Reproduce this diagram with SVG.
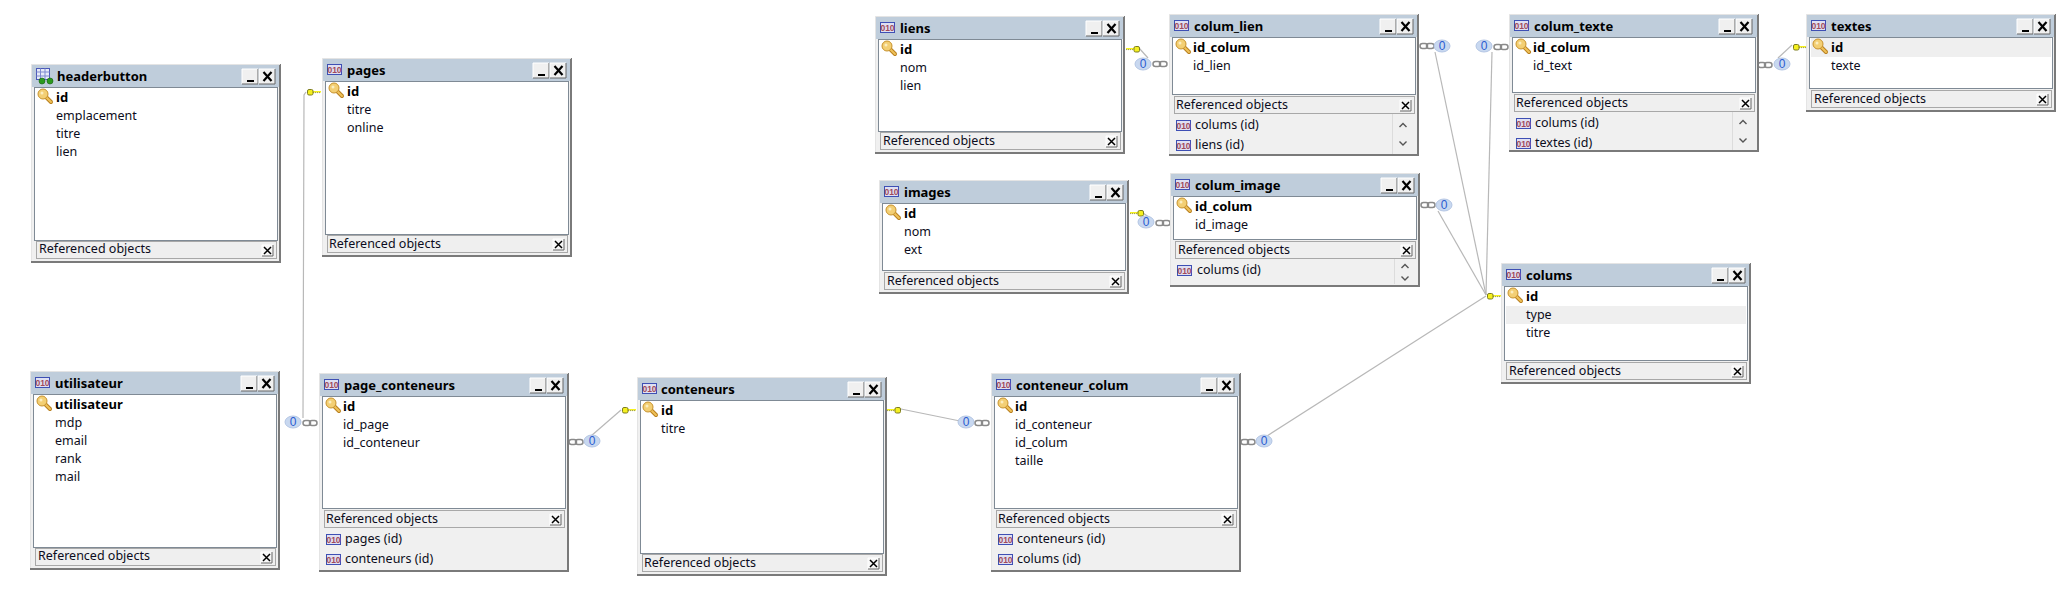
<svg xmlns="http://www.w3.org/2000/svg" xmlns:xlink="http://www.w3.org/1999/xlink" width="2071" height="591" viewBox="0 0 2071 591">
<style>
text{font-family:"Noto Sans","DejaVu Sans",sans-serif;font-size:12.5px;fill:#0c0c20}
.t{font-weight:700;font-size:13px;fill:#000}
.k{font-weight:700;font-size:13px;fill:#000}
.win{fill:#f0f0f0}
.edge{fill:none;stroke:#7a7a7a;stroke-width:2}
.lite{fill:none;stroke:#e4e4e4;stroke-width:1}
.bar{fill:#bfcddb}
.body{fill:#fff;stroke:#7f8a95;stroke-width:1}
.ref{fill:#efefef;stroke:#a8a8a8;stroke-width:1}
.hl{fill:#efefef}
.sep{stroke:#dcdcdc;stroke-width:1}
.chev{fill:none;stroke:#555;stroke-width:1.4}
.c{fill:none;stroke:#b8b8b8;stroke-width:1.2}
.z{font-family:"Liberation Sans",sans-serif;font-size:12px;fill:#2a5bd0;text-anchor:middle}
.ic{font-family:"Liberation Sans",sans-serif;font-size:8.5px;font-weight:700;fill:#a04a5a;text-anchor:middle}
</style>
<defs>
<g id="btn"><rect width="16" height="15" fill="#f0f0f0"/><path d="M0 15V0H16" fill="none" stroke="#fff"/><path d="M16 0V15H0" fill="none" stroke="#666"/></g>
<g id="tb">
<use href="#btn"/><rect x="5" y="11" width="7" height="2" fill="#000"/>
<use href="#btn" x="17"/><path d="M21.500 3L29.500 12M29.500 3L21.500 12" stroke="#000" stroke-width="2.200" fill="none"/>
</g>
<g id="rc"><rect width="11" height="11" fill="#f6f6f6"/><path d="M0 11V0H11" fill="none" stroke="#fff"/><path d="M11 0V11H0" fill="none" stroke="#666"/><path d="M2 2L9 9M9 2L2 9" stroke="#000" stroke-width="1.500" fill="none"/></g>
<g id="i010"><rect x=".5" y=".5" width="14" height="10" fill="#dfe0f2" stroke="#3e4fb4"/><text class="ic" x="7.500" y="8.500">010</text></g>
<g id="igrid"><rect x=".5" y=".5" width="13" height="11" fill="#e6eaf8" stroke="#4a58b8"/><path d="M.5 4H13.500M.5 8H13.500M4.500 .5V11.500M9 .5V11.500" stroke="#7f8ad0" fill="none"/><circle cx="6" cy="13" r="3" fill="#2c9a1e" stroke="#145c10" stroke-width=".6"/><circle cx="14" cy="13" r="3" fill="#2c9a1e" stroke="#145c10" stroke-width=".6"/></g>
<g id="kb"><path d="M6.500 6.500L13 13" stroke="#b9801f" stroke-width="4" stroke-linecap="round"/><path d="M6.500 6.500L13 13" stroke="#f0c25a" stroke-width="2" stroke-linecap="round"/><circle cx="5" cy="5" r="5" fill="#f3cf74" stroke="#c8922c"/><circle cx="4" cy="4" r="1.500" fill="#fbeec0"/></g>
<g id="kl"><rect x="5" y="-1" width="9" height="1.600" fill="#f5f020"/><path d="M6 .6H14" stroke="#8c8c50" stroke-width=".9" stroke-dasharray="1 1"/><rect x=".5" y="-2.500" width="5.500" height="5.500" rx="1.500" fill="#f5f020" stroke="#7d7d20"/></g>
<g id="kr"><rect x="0" y="-1" width="9" height="1.600" fill="#f5f020"/><path d="M0 .6H8" stroke="#8c8c50" stroke-width=".9" stroke-dasharray="1 1"/><rect x="8" y="-2.500" width="5.500" height="5.500" rx="1.500" fill="#f5f020" stroke="#7d7d20"/></g>
<g id="ch"><rect x="0" y="-2.500" width="7.500" height="5" rx="2.500" fill="none" stroke="#8a8a8a" stroke-width="1.500"/><rect x="6.500" y="-2.500" width="7.500" height="5" rx="2.500" fill="none" stroke="#8a8a8a" stroke-width="1.500"/></g>
<g id="bub"><ellipse rx="8" ry="6" fill="#c8d8f0" stroke="#b4c6e4"/></g>
<g id="up"><path class="chev" d="M-3.500 2L0 -1.500L3.500 2"/></g>
<g id="dn"><path class="chev" d="M-3.500 -1.500L0 2L3.500 -1.500"/></g>
</defs>

<g id="connectors">
<polyline class="c" points="306,92 304,95 303,418"/>
<polyline class="c" points="591,436 621,410"/>
<polyline class="c" points="901,409 960,421"/>
<polyline class="c" points="1267,436 1486,296"/>
<polyline class="c" points="1435,52 1486,295"/>
<polyline class="c" points="1438,211 1486,295"/>
<polyline class="c" points="1492,52 1486,295"/>
<polyline class="c" points="1778,58 1792,45"/>
<polyline class="c" points="1139,48 1148,58"/>
<polyline class="c" points="1143,213 1150,218"/>
<use href="#bub" x="293" y="422"/><text class="z" x="293" y="426">0</text><use href="#ch" x="303" y="423"/>
<use href="#kl" x="307" y="92"/>
<use href="#ch" x="569" y="442"/><use href="#bub" x="592" y="441"/><text class="z" x="592" y="445">0</text>
<use href="#kl" x="622" y="410"/>
<use href="#kr" x="887" y="410"/>
<use href="#bub" x="966" y="422"/><text class="z" x="966" y="426">0</text><use href="#ch" x="975" y="423"/>
<use href="#ch" x="1241" y="442"/><use href="#bub" x="1264" y="441"/><text class="z" x="1264" y="445">0</text>
<use href="#kl" x="1487" y="296"/>
<use href="#kr" x="1126" y="49"/>
<use href="#bub" x="1143" y="64"/><text class="z" x="1143" y="68">0</text><use href="#ch" x="1153" y="64"/>
<use href="#kr" x="1130" y="213"/>
<use href="#bub" x="1146" y="222"/><text class="z" x="1146" y="226">0</text><use href="#ch" x="1156" y="223"/>
<use href="#ch" x="1420" y="46"/><use href="#bub" x="1442" y="46"/><text class="z" x="1442" y="50">0</text>
<use href="#ch" x="1421" y="205"/><use href="#bub" x="1444" y="205"/><text class="z" x="1444" y="209">0</text>
<use href="#bub" x="1484" y="46"/><text class="z" x="1484" y="50">0</text><use href="#ch" x="1494" y="47"/>
<use href="#ch" x="1758" y="65"/><use href="#bub" x="1782" y="64"/><text class="z" x="1782" y="68">0</text>
<use href="#kl" x="1793" y="47"/>
</g>

<g id="headerbutton" transform="translate(31,64)">
<rect class="win" width="250" height="198"/><path class="edge" d="M249 0V198H0"/><path class="lite" d="M.5 197V.5H249"/>
<rect class="bar" x="1" y="1" width="247" height="22"/>
<use href="#igrid" x="5" y="4"/><text class="t" x="26" y="17">headerbutton</text><use href="#tb" x="211" y="5"/>
<rect class="body" x="3.500" y="23.500" width="243" height="153"/>
<use href="#kb" x="7" y="25"/><text class="k" x="25" y="38">id</text><text x="25" y="56">emplacement</text><text x="25" y="74">titre</text><text x="25" y="92">lien</text>
<rect class="ref" x="5.500" y="177.500" width="240" height="17"/><text x="8" y="189">Referenced objects</text><use href="#rc" x="231" y="181"/>
</g>

<g id="pages" transform="translate(322,58)">
<rect class="win" width="250" height="198"/><path class="edge" d="M249 0V198H0"/><path class="lite" d="M.5 197V.5H249"/>
<rect class="bar" x="1" y="1" width="247" height="22"/>
<use href="#i010" x="5" y="6"/><text class="t" x="25" y="17">pages</text><use href="#tb" x="211" y="5"/>
<rect class="body" x="3.500" y="23.500" width="243" height="153"/>
<use href="#kb" x="7" y="25"/><text class="k" x="25" y="38">id</text><text x="25" y="56">titre</text><text x="25" y="74">online</text>
<rect class="ref" x="5.500" y="177.500" width="240" height="17"/><text x="7" y="190">Referenced objects</text><use href="#rc" x="231" y="181"/>
</g>

<g id="utilisateur" transform="translate(30,371)">
<rect class="win" width="250" height="198"/><path class="edge" d="M249 0V198H0"/><path class="lite" d="M.5 197V.5H249"/>
<rect class="bar" x="1" y="1" width="247" height="22"/>
<use href="#i010" x="5" y="6"/><text class="t" x="25" y="17">utilisateur</text><use href="#tb" x="211" y="5"/>
<rect class="body" x="3.500" y="23.500" width="243" height="153"/>
<use href="#kb" x="7" y="25"/><text class="k" x="25" y="38">utilisateur</text><text x="25" y="56">mdp</text><text x="25" y="74">email</text><text x="25" y="92">rank</text><text x="25" y="110">mail</text>
<rect class="ref" x="5.500" y="177.500" width="240" height="17"/><text x="8" y="189">Referenced objects</text><use href="#rc" x="231" y="181"/>
</g>

<g id="page_conteneurs" transform="translate(319,373)">
<rect class="win" width="250" height="198"/><path class="edge" d="M249 0V198H0"/><path class="lite" d="M.5 197V.5H249"/>
<rect class="bar" x="1" y="1" width="247" height="22"/>
<use href="#i010" x="5" y="6"/><text class="t" x="25" y="17">page_conteneurs</text><use href="#tb" x="211" y="5"/>
<rect class="body" x="3.500" y="23.500" width="243" height="112"/>
<use href="#kb" x="7" y="25"/><text class="k" x="24" y="38">id</text><text x="24" y="56">id_page</text><text x="24" y="74">id_conteneur</text>
<rect class="ref" x="5.500" y="137.500" width="240" height="17"/><text x="7" y="150">Referenced objects</text><use href="#rc" x="231" y="141"/>
<use href="#i010" x="7" y="161"/><text x="26" y="170">pages (id)</text><use href="#i010" x="7" y="181"/><text x="26" y="190">conteneurs (id)</text>
</g>

<g id="conteneurs" transform="translate(637,377)">
<rect class="win" width="250" height="198"/><path class="edge" d="M249 0V198H0"/><path class="lite" d="M.5 197V.5H249"/>
<rect class="bar" x="1" y="1" width="247" height="22"/>
<use href="#i010" x="5" y="6"/><text class="t" x="24" y="17">conteneurs</text><use href="#tb" x="211" y="5"/>
<rect class="body" x="3.500" y="23.500" width="243" height="153"/>
<use href="#kb" x="6" y="25"/><text class="k" x="24" y="38">id</text><text x="24" y="56">titre</text>
<rect class="ref" x="5.500" y="177.500" width="240" height="17"/><text x="7" y="190">Referenced objects</text><use href="#rc" x="231" y="181"/>
</g>

<g id="conteneur_colum" transform="translate(991,373)">
<rect class="win" width="250" height="198"/><path class="edge" d="M249 0V198H0"/><path class="lite" d="M.5 197V.5H249"/>
<rect class="bar" x="1" y="1" width="247" height="22"/>
<use href="#i010" x="5" y="6"/><text class="t" x="25" y="17">conteneur_colum</text><use href="#tb" x="210" y="5"/>
<rect class="body" x="3.500" y="23.500" width="243" height="112"/>
<use href="#kb" x="7" y="25"/><text class="k" x="24" y="38">id</text><text x="24" y="56">id_conteneur</text><text x="24" y="74">id_colum</text><text x="24" y="92">taille</text>
<rect class="ref" x="5.500" y="137.500" width="240" height="17"/><text x="7" y="150">Referenced objects</text><use href="#rc" x="231" y="141"/>
<use href="#i010" x="7" y="161"/><text x="26" y="170">conteneurs (id)</text><use href="#i010" x="7" y="181"/><text x="26" y="190">colums (id)</text>
</g>

<g id="liens" transform="translate(875,16)">
<rect class="win" width="250" height="137"/><path class="edge" d="M249 0V137H0"/><path class="lite" d="M.5 136V.5H249"/>
<rect class="bar" x="1" y="1" width="247" height="22"/>
<use href="#i010" x="5" y="6"/><text class="t" x="25" y="17">liens</text><use href="#tb" x="211" y="5"/>
<rect class="body" x="3.500" y="23.500" width="243" height="92"/>
<use href="#kb" x="7" y="25"/><text class="k" x="25" y="38">id</text><text x="25" y="56">nom</text><text x="25" y="74">lien</text>
<rect class="ref" x="5.500" y="116.500" width="240" height="17"/><text x="8" y="129">Referenced objects</text><use href="#rc" x="231" y="120"/>
</g>

<g id="colum_lien" transform="translate(1169,14)">
<rect class="win" width="250" height="141"/><path class="edge" d="M249 0V141H0"/><path class="lite" d="M.5 140V.5H249"/>
<rect class="bar" x="1" y="1" width="247" height="22"/>
<use href="#i010" x="5" y="6"/><text class="t" x="25" y="17">colum_lien</text><use href="#tb" x="211" y="5"/>
<rect class="body" x="3.500" y="23.500" width="243" height="57"/>
<use href="#kb" x="7" y="25"/><text class="k" x="24" y="38">id_colum</text><text x="24" y="56">id_lien</text>
<rect class="ref" x="5.500" y="82.500" width="240" height="17"/><text x="7" y="95">Referenced objects</text><use href="#rc" x="231" y="86"/>
<use href="#i010" x="7" y="106"/><text x="26" y="115">colums (id)</text><use href="#i010" x="7" y="126"/><text x="26" y="135">liens (id)</text>
<line class="sep" x1="223.500" y1="100" x2="223.500" y2="140"/><use href="#up" x="234" y="111"/><use href="#dn" x="234" y="129"/>
</g>

<g id="colum_texte" transform="translate(1509,14)">
<rect class="win" width="250" height="137"/><path class="edge" d="M249 0V137H0"/><path class="lite" d="M.5 136V.5H249"/>
<rect class="bar" x="1" y="1" width="247" height="22"/>
<use href="#i010" x="5" y="6"/><text class="t" x="25" y="17">colum_texte</text><use href="#tb" x="210" y="5"/>
<rect class="body" x="3.500" y="23.500" width="243" height="55"/>
<use href="#kb" x="7" y="25"/><text class="k" x="24" y="38">id_colum</text><text x="24" y="56">id_text</text>
<rect class="ref" x="5.500" y="80.500" width="240" height="17"/><text x="7" y="93">Referenced objects</text><use href="#rc" x="231" y="84"/>
<use href="#i010" x="7" y="104"/><text x="26" y="113">colums (id)</text><use href="#i010" x="7" y="124"/><text x="26" y="133">textes (id)</text>
<line class="sep" x1="223.500" y1="98" x2="223.500" y2="136"/><use href="#up" x="234" y="108"/><use href="#dn" x="234" y="126"/>
</g>

<g id="textes" transform="translate(1806,14)">
<rect class="win" width="250" height="97"/><path class="edge" d="M249 0V97H0"/><path class="lite" d="M.5 96V.5H249"/>
<rect class="bar" x="1" y="1" width="247" height="22"/>
<use href="#i010" x="5" y="6"/><text class="t" x="25" y="17">textes</text><use href="#tb" x="211" y="5"/>
<rect class="body" x="3.500" y="23.500" width="243" height="51"/>
<rect class="hl" x="5" y="24" width="240" height="19"/>
<use href="#kb" x="7" y="25"/><text class="k" x="25" y="38">id</text><text x="25" y="56">texte</text>
<rect class="ref" x="5.500" y="76.500" width="240" height="17"/><text x="8" y="89">Referenced objects</text><use href="#rc" x="231" y="80"/>
</g>

<g id="images" transform="translate(879,180)">
<rect class="win" width="250" height="113"/><path class="edge" d="M249 0V113H0"/><path class="lite" d="M.5 112V.5H249"/>
<rect class="bar" x="1" y="1" width="247" height="22"/>
<use href="#i010" x="5" y="6"/><text class="t" x="25" y="17">images</text><use href="#tb" x="211" y="5"/>
<rect class="body" x="3.500" y="23.500" width="243" height="67"/>
<use href="#kb" x="7" y="25"/><text class="k" x="25" y="38">id</text><text x="25" y="56">nom</text><text x="25" y="74">ext</text>
<rect class="ref" x="5.500" y="92.500" width="240" height="17"/><text x="8" y="105">Referenced objects</text><use href="#rc" x="231" y="96"/>
</g>

<g id="colum_image" transform="translate(1170,173)">
<rect class="win" width="250" height="113"/><path class="edge" d="M249 0V113H0"/><path class="lite" d="M.5 112V.5H249"/>
<rect class="bar" x="1" y="1" width="247" height="22"/>
<use href="#i010" x="5" y="6"/><text class="t" x="25" y="17">colum_image</text><use href="#tb" x="211" y="5"/>
<rect class="body" x="3.500" y="23.500" width="243" height="43"/>
<use href="#kb" x="7" y="25"/><text class="k" x="25" y="38">id_colum</text><text x="25" y="56">id_image</text>
<rect class="ref" x="5.500" y="68.500" width="240" height="17"/><text x="8" y="81">Referenced objects</text><use href="#rc" x="231" y="72"/>
<use href="#i010" x="7" y="92"/><text x="27" y="101">colums (id)</text>
<line class="sep" x1="224.500" y1="86" x2="224.500" y2="111"/><use href="#up" x="235" y="93"/><use href="#dn" x="235" y="105"/>
</g>

<g id="colums" transform="translate(1501,263)">
<rect class="win" width="250" height="120"/><path class="edge" d="M249 0V120H0"/><path class="lite" d="M.5 119V.5H249"/>
<rect class="bar" x="1" y="1" width="247" height="22"/>
<use href="#i010" x="5" y="6"/><text class="t" x="25" y="17">colums</text><use href="#tb" x="211" y="5"/>
<rect class="body" x="3.500" y="23.500" width="243" height="74"/>
<rect class="hl" x="5" y="43" width="240" height="18"/>
<use href="#kb" x="7" y="25"/><text class="k" x="25" y="38">id</text><text x="25" y="56">type</text><text x="25" y="74">titre</text>
<rect class="ref" x="5.500" y="99.500" width="240" height="17"/><text x="8" y="112">Referenced objects</text><use href="#rc" x="231" y="103"/>
</g>
</svg>
